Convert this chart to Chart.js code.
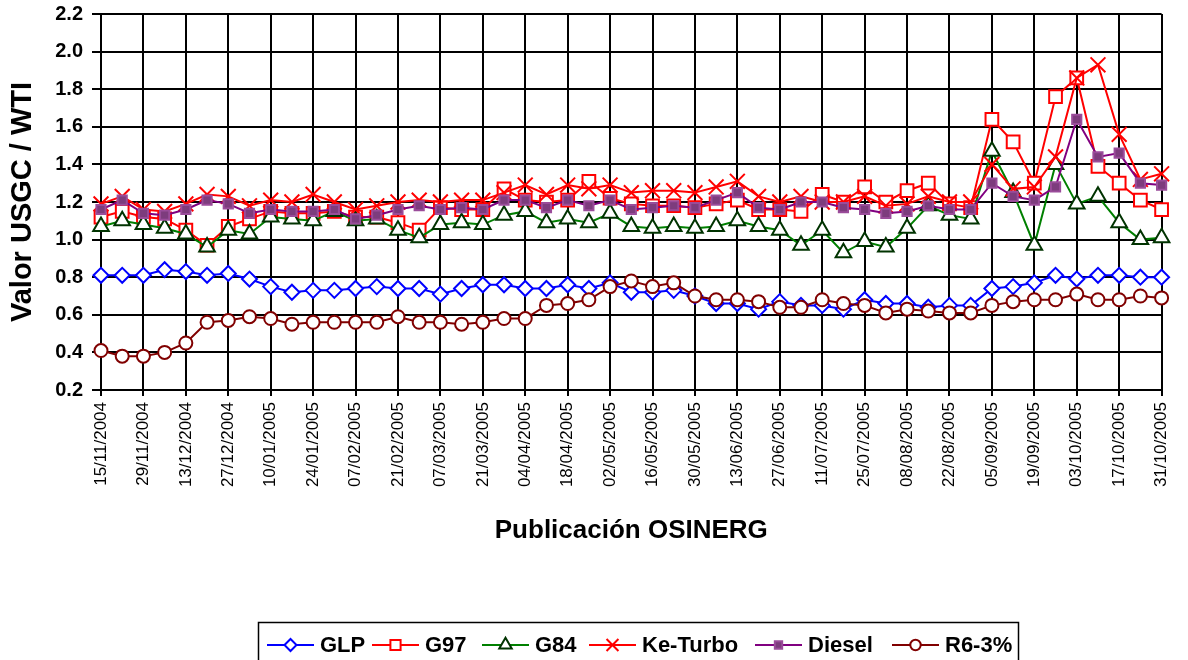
<!DOCTYPE html>
<html>
<head>
<meta charset="utf-8">
<title>Valor USGC / WTI</title>
<script src="https://cdn.jsdelivr.net/npm/chart.js@4.4.1/dist/chart.umd.min.js"></script>
<style>
  html, body { margin: 0; padding: 0; background: #fff; }
  #wrap { width: 1188px; height: 660px; }
</style>
</head>
<body>
<div id="wrap"><canvas id="ratioChart" width="1188" height="660"></canvas></div>
<script>
// weekly OSINERG publications
const fechas = [
  '15/11/2004', '22/11/2004', '29/11/2004', '06/12/2004', '13/12/2004', '20/12/2004', '27/12/2004',
  '03/01/2005', '10/01/2005', '17/01/2005', '24/01/2005', '31/01/2005', '07/02/2005', '14/02/2005',
  '21/02/2005', '28/02/2005', '07/03/2005', '14/03/2005', '21/03/2005', '28/03/2005', '04/04/2005',
  '11/04/2005', '18/04/2005', '25/04/2005', '02/05/2005', '09/05/2005', '16/05/2005', '23/05/2005',
  '30/05/2005', '06/06/2005', '13/06/2005', '20/06/2005', '27/06/2005', '04/07/2005', '11/07/2005',
  '18/07/2005', '25/07/2005', '01/08/2005', '08/08/2005', '15/08/2005', '22/08/2005', '29/08/2005',
  '05/09/2005', '12/09/2005', '19/09/2005', '26/09/2005', '03/10/2005', '10/10/2005', '17/10/2005',
  '24/10/2005', '31/10/2005'
];

const glp = [
  0.81, 0.81, 0.81, 0.84, 0.83, 0.81, 0.82, 0.79, 0.75, 0.72, 0.73, 0.73, 0.74,
  0.75, 0.74, 0.74, 0.71, 0.74, 0.76, 0.76, 0.74, 0.74, 0.76, 0.74, 0.77, 0.72,
  0.72, 0.73, 0.70, 0.66, 0.66, 0.63, 0.67, 0.65, 0.65, 0.63, 0.68, 0.66,
  0.66, 0.64, 0.65, 0.65, 0.74, 0.75, 0.77, 0.81, 0.79, 0.81, 0.81, 0.80, 0.80
];
const g97 = [
  1.12, 1.15, 1.12, 1.11, 1.05, 0.97, 1.07, 1.11, 1.15, 1.14, 1.14, 1.15, 1.12,
  1.12, 1.09, 1.05, 1.17, 1.16, 1.16, 1.27, 1.21, 1.20, 1.21, 1.31, 1.22, 1.19,
  1.18, 1.18, 1.17, 1.19, 1.21, 1.16, 1.16, 1.15, 1.24, 1.20, 1.28, 1.20,
  1.26, 1.30, 1.19, 1.17, 1.64, 1.52, 1.30, 1.76, 1.86, 1.39, 1.30, 1.21, 1.16
];
const g84 = [
  1.07, 1.10, 1.08, 1.06, 1.03, 0.96, 1.05, 1.03, 1.12, 1.11, 1.10, 1.15, 1.10,
  1.11, 1.05, 1.01, 1.08, 1.09, 1.08, 1.13, 1.15, 1.09, 1.11, 1.09, 1.14, 1.07,
  1.06, 1.07, 1.06, 1.07, 1.10, 1.07, 1.05, 0.97, 1.05, 0.93, 0.99, 0.96,
  1.06, 1.18, 1.13, 1.11, 1.47, 1.25, 0.97, 1.40, 1.19, 1.23, 1.09, 1.00, 1.01
];
const keTurbo = [
  1.19, 1.23, 1.16, 1.15, 1.19, 1.24, 1.23, 1.18, 1.21, 1.20, 1.24, 1.20, 1.16,
  1.18, 1.20, 1.21, 1.20, 1.21, 1.21, 1.25, 1.29, 1.24, 1.29, 1.27, 1.29, 1.25,
  1.26, 1.26, 1.25, 1.28, 1.31, 1.23, 1.20, 1.23, 1.20, 1.20, 1.23, 1.18,
  1.19, 1.23, 1.20, 1.20, 1.40, 1.27, 1.28, 1.44, 1.86, 1.93, 1.56, 1.32, 1.35
];
const diesel = [
  1.16, 1.21, 1.14, 1.13, 1.16, 1.21, 1.19, 1.14, 1.16, 1.15, 1.15, 1.16, 1.11,
  1.13, 1.16, 1.18, 1.16, 1.17, 1.16, 1.21, 1.21, 1.17, 1.21, 1.18, 1.21, 1.16,
  1.17, 1.18, 1.17, 1.21, 1.25, 1.17, 1.16, 1.20, 1.20, 1.17, 1.16, 1.14,
  1.15, 1.18, 1.16, 1.16, 1.30, 1.23, 1.21, 1.28, 1.64, 1.44, 1.46, 1.30, 1.29
];
const r6 = [
  0.41, 0.38, 0.38, 0.40, 0.45, 0.56, 0.57, 0.59, 0.58, 0.55, 0.56, 0.56, 0.56,
  0.56, 0.59, 0.56, 0.56, 0.55, 0.56, 0.58, 0.58, 0.65, 0.66, 0.68, 0.75, 0.78,
  0.75, 0.77, 0.70, 0.68, 0.68, 0.67, 0.64, 0.64, 0.68, 0.66, 0.65, 0.61,
  0.63, 0.62, 0.61, 0.61, 0.65, 0.67, 0.68, 0.68, 0.71, 0.68, 0.68, 0.70, 0.69
];

const yMin = 0.2, yMax = 2.2, yStep = 0.2;

const FONT = '"Liberation Sans", Arial, sans-serif';
Chart.defaults.font.family = FONT;
Chart.defaults.color = '#000';

function serie(label, data, color, style, radius, fill, border, order) {
  return {
    label: label,
    data: data,
    borderColor: color,
    borderWidth: 2,
    pointStyle: style,
    pointRadius: radius,
    pointBackgroundColor: fill,
    pointBorderColor: border || color,
    pointBorderWidth: 2,
    tension: 0,
    clip: false,
    order: order
  };
}

// legend drawn by hand: line + marker + name inside a framed box
const legendBox = {
  id: 'legendBox',
  afterDraw(chart) {
    const ctx = chart.ctx;
    const starts = [267, 372, 482, 589, 755, 892];
    const y = 645;
    ctx.save();
    ctx.strokeStyle = '#000';
    ctx.lineWidth = 1.5;
    ctx.strokeRect(258.5, 622.5, 760, 40);
    ctx.font = 'bold 22px ' + FONT;
    ctx.textBaseline = 'middle';
    chart.data.datasets.forEach((ds, i) => {
      const x0 = starts[i];
      ctx.strokeStyle = ds.borderColor;
      ctx.lineWidth = 2;
      ctx.beginPath();
      ctx.moveTo(x0, y);
      ctx.lineTo(x0 + 47, y);
      ctx.stroke();
      ctx.fillStyle = ds.pointBackgroundColor;
      ctx.strokeStyle = ds.pointBorderColor;
      Chart.helpers.drawPoint(ctx, {
        pointStyle: ds.pointStyle, radius: ds.pointRadius * 0.8, rotation: 0, borderWidth: 2
      }, x0 + 23.5, y);
      ctx.fillStyle = '#000';
      ctx.fillText(ds.label, x0 + 53, y + 1);
    });
    ctx.restore();
  }
};

const ctx = document.getElementById('ratioChart').getContext('2d');
const ratioChart = new Chart(ctx, {
  type: 'line',
  data: {
    labels: fechas,
    datasets: [
      serie('GLP', glp, '#0000FF', 'rectRot', 7.5, '#FFFFFF', null, 6),
      serie('G97', g97, '#FF0000', 'rect', 9, '#FFFFFF', null, 5),
      serie('G84', g84, '#008000', 'triangle', 9, '#FFFFFF', '#003300', 4),
      serie('Ke-Turbo', keTurbo, '#FF0000', 'crossRot', 10.5, '#FFFFFF', null, 3),
      serie('Diesel', diesel, '#800080', 'rect', 6.5, '#7D3C7D', '#9A4C9A', 2),
      serie('R6-3%', r6, '#800000', 'circle', 6.5, '#FFFFFF', null, 1)
    ]
  },
  options: {
    responsive: false,
    animation: false,
    events: [],
    layout: { padding: { left: 0, top: 14, right: 18, bottom: 0 } },
    plugins: {
      legend: { display: false },
      tooltip: { enabled: false }
    },
    scales: {
      x: {
        type: 'category',
        offset: false,
        afterFit: s => { s.height = 270; },
        border: { display: true, color: '#000', width: 2 },
        grid: {
          color: c => (c.index % 2 === 0 ? '#000' : 'rgba(0,0,0,0)'),
          lineWidth: 2,
          tickLength: 6,
          drawTicks: true
        },
        ticks: {
          autoSkip: false,
          minRotation: 90,
          maxRotation: 90,
          padding: 6,
          font: { size: 17 },
          color: '#000',
          callback: (v, i) => (i % 2 === 0 ? fechas[i] : '')
        },
        title: {
          display: true,
          text: 'Publicación OSINERG',
          font: { size: 26, weight: 'bold' },
          color: '#000',
          padding: { top: 0, bottom: 114 }
        }
      },
      y: {
        min: yMin,
        max: yMax,
        afterFit: s => { s.width = 101; s.paddingTop = 0; s.paddingBottom = 0; },
        border: { display: true, color: '#000', width: 2 },
        grid: { color: '#000', lineWidth: 2, tickLength: 9 },
        ticks: {
          stepSize: yStep,
          padding: 9,
          font: { size: 20, weight: 'bold' },
          color: '#000',
          callback: v => v.toFixed(1)
        },
        title: {
          display: true,
          text: 'Valor USGC / WTI',
          font: { size: 29, weight: 'bold' },
          color: '#000',
          padding: { top: 6, bottom: 0 }
        }
      }
    }
  },
  plugins: [legendBox]
});
</script>
</body>
</html>
